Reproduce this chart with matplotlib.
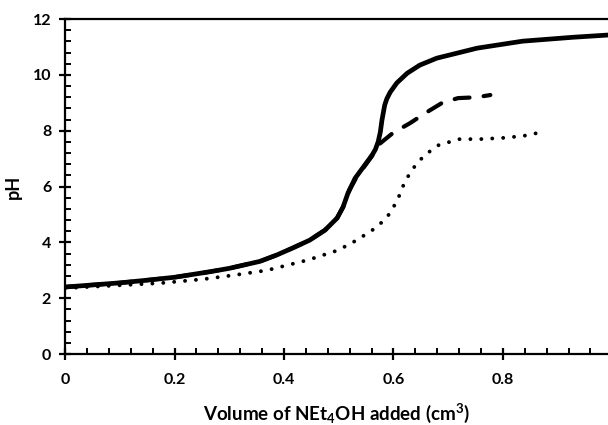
import matplotlib
matplotlib.use("Agg")
import matplotlib.pyplot as plt
from matplotlib.ticker import MultipleLocator

# titration curves
solid_x = [0, 0.1, 0.142, 0.2, 0.265, 0.3, 0.356, 0.387, 0.416, 0.447, 0.475,
           0.497, 0.508, 0.517, 0.530, 0.545, 0.561, 0.567, 0.572, 0.576,
           0.579, 0.584, 0.588, 0.594, 0.606, 0.625, 0.648, 0.679, 0.716,
           0.753, 0.836, 0.928, 0.992]
solid_y = [2.4, 2.55, 2.63, 2.75, 2.95, 3.07, 3.32, 3.55, 3.8, 4.08, 4.44,
           4.87, 5.27, 5.77, 6.3, 6.7, 7.13, 7.33, 7.6, 7.95,
           8.38, 8.92, 9.15, 9.38, 9.71, 10.06, 10.35, 10.6, 10.78,
           10.96, 11.21, 11.35, 11.43]

dashed_x = [0, 0.1, 0.142, 0.2, 0.265, 0.3, 0.356, 0.387, 0.416, 0.447, 0.475,
            0.497, 0.508, 0.52, 0.533, 0.548, 0.561, 0.572, 0.599, 0.63,
            0.658, 0.689, 0.718, 0.752, 0.777]
dashed_y = [2.4, 2.55, 2.63, 2.75, 2.95, 3.07, 3.32, 3.55, 3.8, 4.08, 4.44,
            4.87, 5.27, 5.9, 6.35, 6.75, 7.1, 7.49, 7.92, 8.27,
            8.63, 9.0, 9.17, 9.2, 9.28]

dotted_x = [0, 0.174, 0.252, 0.31, 0.369, 0.444, 0.499, 0.533, 0.566, 0.581,
            0.594, 0.603, 0.612, 0.619, 0.628, 0.639, 0.652, 0.667, 0.683,
            0.701, 0.721, 0.758, 0.798, 0.836, 0.855, 0.877]
dotted_y = [2.36, 2.54, 2.68, 2.83, 3.0, 3.37, 3.72, 4.08, 4.5, 4.76,
            5.05, 5.37, 5.73, 6.09, 6.41, 6.73, 7.02, 7.27, 7.49,
            7.59, 7.7, 7.7, 7.74, 7.81, 7.88, 8.0]

plt.rcParams['font.family'] = ['Lato', 'DejaVu Sans']
plt.rcParams['font.weight'] = 'bold'
plt.rcParams['mathtext.fontset'] = 'custom'
plt.rcParams['mathtext.rm'] = 'Lato:bold'
plt.rcParams['mathtext.default'] = 'rm'

fig = plt.figure(figsize=(6.08, 4.25), dpi=100)
ax = fig.add_axes([0.107, 0.167, 0.893, 0.788])

ax.plot(dotted_x, dotted_y, color='black', lw=2.8,
        linestyle=(0, (0.01, 2.8)), dash_capstyle='round')
ax.plot(dashed_x, dashed_y, color='black', lw=3.0,
        linestyle=(1.5, (3.6, 3.4)), dash_capstyle='round')
ax.plot(solid_x, solid_y, color='black', lw=3.4, solid_capstyle='round',
        solid_joinstyle='round')

ax.set_xlim(0, 0.992)
ax.set_ylim(0, 12)
ax.xaxis.set_major_locator(MultipleLocator(0.2))
ax.xaxis.set_minor_locator(MultipleLocator(0.04))
ax.yaxis.set_major_locator(MultipleLocator(2))
ax.yaxis.set_minor_locator(MultipleLocator(0.4))
ax.set_xticks([0, 0.2, 0.4, 0.6, 0.8])
ax.set_xticklabels(['0', '0.2', '0.4', '0.6', '0.8'])

ax.spines['right'].set_visible(False)
for s in ['left', 'bottom', 'top']:
    ax.spines[s].set_linewidth(1.6)

ax.tick_params(which='major', direction='inout', length=8, width=1.6,
               labelsize=11.5, pad=6)
ax.tick_params(which='minor', direction='in', length=4, width=1.4)
ax.tick_params(axis='x', which='major', pad=10)

ax.set_xlabel(r'Volume of NEt$_4$OH added (cm$^3$)', fontsize=13.5,
              fontweight='bold', labelpad=10)
ax.set_ylabel('pH', fontsize=13, fontweight='bold', labelpad=8)

fig.savefig('out.png', dpi=100)
